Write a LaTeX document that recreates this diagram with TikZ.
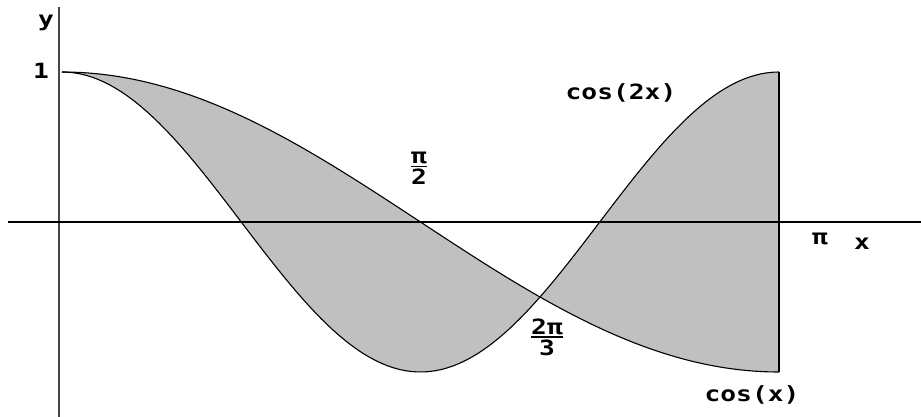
\documentclass[tikz,border=0pt]{standalone}
\usepackage{amsmath}
\usepackage{fontspec}
\newfontfamily\lab[FakeStretch=1.25,BoldFont={* Bold}]{DejaVu Sans Mono}
\begin{document}
\begin{tikzpicture}[x=1pt,y=-1pt,
  lbl/.style={font=\lab\bfseries\fontsize{21}{23}\selectfont, inner sep=0pt},
  curve/.style={draw=black, line width=1.1pt},
  axis/.style={line width=2pt}]
\useasboundingbox (0,0) rectangle (921,417);
% shaded region between cos(x) and cos(2x)
\fill[fill={rgb,255:red,192;green,192;blue,192}]
  plot[domain=0:180,samples=120] ({62+3.98333*\x},{222-150*cos(\x)})
  -- plot[domain=180:0,samples=120] ({62+3.98333*\x},{222-150*cos(2*\x)}) -- cycle;
% axes
\coordinate (ytop) at (59,7);
\coordinate (ybot) at (59,417);
\coordinate (xl) at (8,222);
\coordinate (xr) at (921,222);
\draw[axis, draw={rgb,255:red,70;green,70;blue,70}] (ytop) -- (ybot);
\draw[axis] (xl) -- (xr);
% curves
\draw[curve] plot[domain=0:180,samples=120] ({62+3.98333*\x},{222-150*cos(\x)});
\draw[curve] plot[domain=0:180,samples=120] ({62+3.98333*\x},{222-150*cos(2*\x)});
\coordinate (pitop) at (779,72);
\coordinate (pibot) at (779,372);
\draw[line width=1.6pt] (pitop) -- (pibot);
% labels
\node[lbl] (ly) at (46,23) {y};
\node[lbl] (l1) at (41,71) {1};
\node[lbl] (lc2) at (621,93) {cos(2x)};
\node[lbl] (lp2) at (419,168) {$\genfrac{}{}{1.5pt}{}{\hbox{\lab\bfseries π}}{\hbox{\lab\bfseries 2}}$};
\node[lbl] (l23) at (547,337) {$\genfrac{}{}{1.5pt}{}{\hbox{\lab\bfseries 2π}}{\hbox{\lab\bfseries 3}}$};
\node[lbl] (lpi) at (820,239) {π};
\node[lbl] (lx) at (862,244) {x};
\node[lbl] (lc1) at (752,395) {cos(x)};
\end{tikzpicture}
\end{document}
